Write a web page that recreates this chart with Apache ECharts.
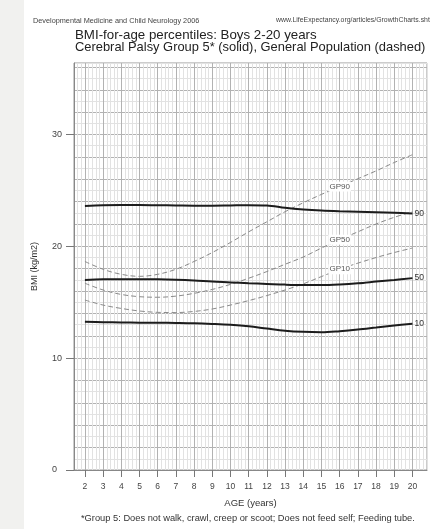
<!DOCTYPE html>
<html>
<head>
<meta charset="utf-8">
<script src="https://cdn.jsdelivr.net/npm/echarts@6/dist/echarts.min.js"></script>
<style>
html,body{margin:0;padding:0;background:#fff;}
#c{width:436px;height:529px;}
</style>
</head>
<body>
<div id="c"></div>
<script>
// Ages (years)
var ages = [2,3,4,5,6,7,8,9,10,11,12,13,14,15,16,17,18,19,20];
// Cerebral Palsy Group 5 percentiles (solid)
var cp90 = [23.62,23.68,23.7,23.7,23.68,23.66,23.64,23.64,23.66,23.68,23.66,23.45,23.3,23.2,23.14,23.1,23.05,23.0,22.95];
var cp50 = [17.0,17.05,17.07,17.07,17.06,17.02,16.95,16.85,16.78,16.7,16.64,16.58,16.55,16.55,16.6,16.7,16.85,17.0,17.16];
var cp10 = [13.25,13.22,13.2,13.18,13.17,13.15,13.12,13.06,12.98,12.85,12.65,12.46,12.36,12.33,12.42,12.56,12.74,12.92,13.08];
// General Population percentiles (dashed)
var gp90 = [18.65,17.95,17.5,17.32,17.5,17.95,18.65,19.45,20.35,21.3,22.2,23.1,23.9,24.65,25.35,26.05,26.75,27.5,28.2];
var gp50 = [16.7,16.1,15.7,15.5,15.45,15.55,15.8,16.15,16.6,17.15,17.75,18.4,19.05,19.85,20.6,21.3,22.0,22.6,23.1];
var gp10 = [15.2,14.75,14.45,14.22,14.1,14.08,14.18,14.4,14.75,15.15,15.6,16.1,16.65,17.3,17.95,18.5,19.0,19.45,19.85];
// Tick labels
var xTicks = [2,3,4,5,6,7,8,9,10,11,12,13,14,15,16,17,18,19,20];
var yTicks = [0,10,20,30];
var gpLabelAge = 16;

var FONT = 'Liberation Sans';
var XMIN = 1.4, XMAX = 20.8, YMIN = 0, YMAX = 36.4;

function solid(name, vals, endText) {
  return {
    type: 'line', name: name, smooth: 0.35,
    data: ages.map(function (a, i) { return [a, vals[i]]; }),
    showSymbol: false, symbol: 'none',
    lineStyle: { color: '#1c1c1c', width: 2 },
    endLabel: { show: true, formatter: endText, distance: 2, fontSize: 8.5, color: '#333', fontFamily: FONT },
    z: 5
  };
}
function dashed(name, vals, lbl) {
  return {
    type: 'line', name: name, smooth: 0.35,
    data: ages.map(function (a, i) {
      var d = { value: [a, vals[i]] };
      if (a === gpLabelAge) {
        d.label = { show: true, position: 'inside', formatter: lbl, fontSize: 8, color: '#555',
          fontFamily: FONT, backgroundColor: '#fff', padding: [1, 1] };
      }
      return d;
    }),
    symbol: 'circle', symbolSize: 0, showSymbol: true,
    label: { show: false },
    lineStyle: { color: '#8a8a8a', width: 1, type: [5, 3] },
    z: 4
  };
}

var chart = echarts.init(document.getElementById('c'), null, { renderer: 'canvas' });
chart.setOption({
  animation: false,
  backgroundColor: '#fff',
  graphic: [{ type: 'rect', shape: { x: 0, y: 0, width: 24, height: 529 }, style: { fill: '#f1f1ef' }, silent: true, z: -10 }],
  title: [
    { text: '{a|BMI-for-age percentiles: Boys 2-20 years}\n{b|Cerebral Palsy Group 5* (solid), General Population (dashed)}',
      left: 75, top: 29, padding: 0,
      textStyle: { fontWeight: 'normal', rich: {
        a: { fontFamily: FONT, fontSize: 13.3, fontWeight: 'normal', color: '#222', lineHeight: 12.5 },
        b: { fontFamily: FONT, fontSize: 12.9, fontWeight: 'normal', color: '#222', lineHeight: 12.5 } } } },
    { text: 'Developmental Medicine and Child Neurology 2006', left: 33, top: 17, padding: 0,
      textStyle: { fontFamily: FONT, fontSize: 7.3, fontWeight: 'normal', color: '#444' } },
    { text: 'www.LifeExpectancy.org/articles/GrowthCharts.sht', left: 276, top: 17, padding: 0,
      textStyle: { fontFamily: FONT, fontSize: 6.9, fontWeight: 'normal', color: '#444' } },
    { text: '*Group 5: Does not walk, crawl, creep or scoot; Does not feed self; Feeding tube.', left: 81, top: 514, padding: 0,
      textStyle: { fontFamily: FONT, fontSize: 9.3, fontWeight: 'normal', color: '#333' } }
  ],
  grid: { left: 74, right: 9, top: 63, bottom: 59, show: true, borderColor: '#999', borderWidth: 1, backgroundColor: 'transparent' },
  xAxis: [{
    type: 'value', min: XMIN, max: XMAX, position: 'bottom',
    name: 'AGE (years)', nameLocation: 'middle', nameGap: 28,
    nameTextStyle: { fontFamily: FONT, fontSize: 9.5, color: '#333' },
    axisLine: { show: true, lineStyle: { color: '#888', width: 1 } },
    axisTick: { show: true, customValues: xTicks, length: 7, lineStyle: { color: '#777' } },
    axisLabel: { show: true, customValues: xTicks, margin: 12, fontSize: 8.5, color: '#444', fontFamily: FONT },
    splitLine: { show: false }
  }, {
    type: 'value', min: XMIN, max: XMAX, interval: 0.2, position: 'bottom',
    axisLine: { show: false }, axisTick: { show: false }, axisLabel: { show: false },
    splitLine: { show: true, lineStyle: { width: 1, color: ['#e2e2e2', '#e2e2e2', '#e2e2e2', '#b2b2b2', '#e2e2e2'] } }
  }],
  yAxis: [{
    type: 'value', min: YMIN, max: YMAX, position: 'left',
    name: 'BMI (kg/m2)', nameLocation: 'middle', nameGap: 35,
    nameTextStyle: { fontFamily: FONT, fontSize: 9, color: '#333' },
    axisLine: { show: true, lineStyle: { color: '#888', width: 1 } },
    axisTick: { show: true, customValues: yTicks, length: 8, lineStyle: { color: '#777' } },
    axisLabel: { show: true, customValues: yTicks, margin: 22, align: 'left', fontSize: 9, color: '#444', fontFamily: FONT },
    splitLine: { show: false }
  }, {
    type: 'value', min: YMIN, max: YMAX, interval: 1, position: 'left',
    axisLine: { show: false }, axisTick: { show: false }, axisLabel: { show: false },
    splitLine: { show: true, lineStyle: { width: 1, color: ['#b2b2b2', '#e2e2e2'] } }
  }],
  series: [
    dashed('GP90', gp90, 'GP90'),
    dashed('GP50', gp50, 'GP50'),
    dashed('GP10', gp10, 'GP10'),
    solid('CP90', cp90, '90'),
    solid('CP50', cp50, '50'),
    solid('CP10', cp10, '10')
  ]
});
</script>
</body>
</html>
